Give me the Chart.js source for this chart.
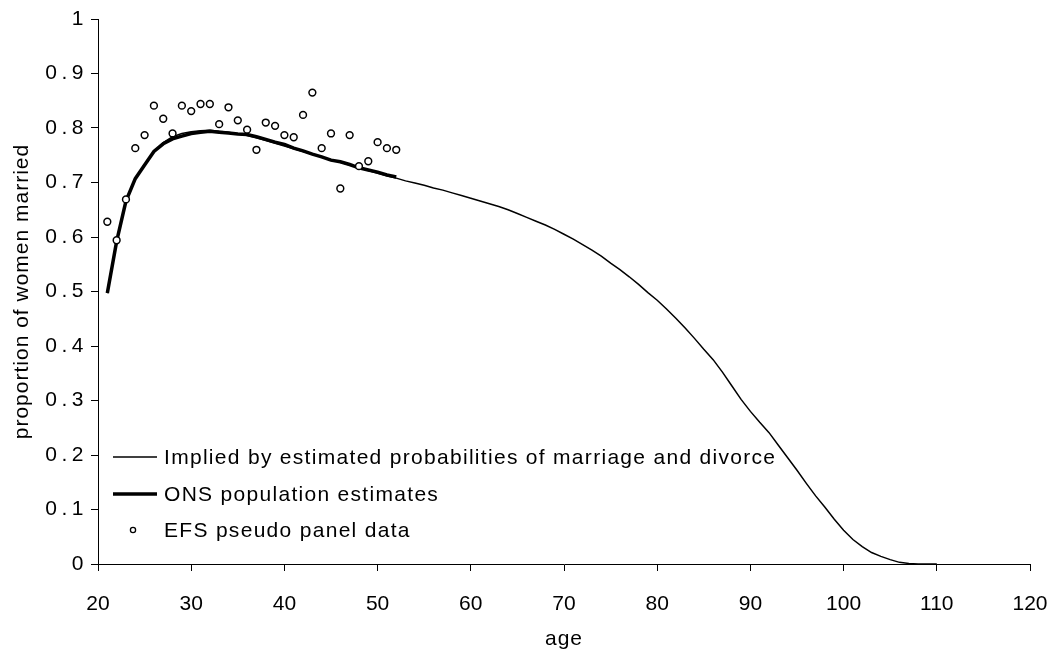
<!DOCTYPE html>
<html>
<head>
<meta charset="utf-8">
<title>Proportion of women married by age</title>
<script src="https://cdn.jsdelivr.net/npm/chart.js@4.4.1/dist/chart.umd.min.js"></script>
<style>
  html, body { margin: 0; padding: 0; background: #fff; }
  #wrap { width: 1059px; height: 652px; }
</style>
</head>
<body>
<div id="wrap"><canvas id="chart" width="1059" height="652"></canvas></div>
<script>
// Ages covered by the model-implied curve
const impliedAges = [];
for (let a = 21; a <= 110; a++) impliedAges.push(a);

// Proportion married implied by estimated probabilities of marriage and divorce
const impliedValues = [
  0.497, 0.592, 0.664, 0.707, 0.733, 0.757, 0.773, 0.784, 0.790, 0.793,
  0.795, 0.796, 0.794, 0.792, 0.789, 0.786, 0.782, 0.777, 0.772, 0.767,
  0.762, 0.757, 0.752, 0.747, 0.742, 0.737, 0.732, 0.727, 0.722, 0.717,
  0.712, 0.708, 0.703, 0.699, 0.695, 0.690, 0.686, 0.681, 0.676, 0.671,
  0.666, 0.661, 0.656, 0.650, 0.643, 0.636, 0.629, 0.622, 0.614, 0.605,
  0.596, 0.586, 0.576, 0.565, 0.552, 0.540, 0.527, 0.513, 0.498, 0.484,
  0.468, 0.451, 0.433, 0.414, 0.394, 0.375, 0.352, 0.327, 0.302, 0.280,
  0.260, 0.241, 0.218, 0.195, 0.172, 0.148, 0.125, 0.104, 0.082, 0.062,
  0.045, 0.032, 0.021, 0.014, 0.008, 0.003, 0.001, 0.000, 0.000, 0.000
];

// Ages 21-52 for the ONS estimates and the EFS pseudo panel
const panelAges = [];
for (let a = 21; a <= 52; a++) panelAges.push(a);

// ONS population estimates
const onsValues = [
  0.497, 0.592, 0.666, 0.707, 0.732, 0.757, 0.771, 0.780, 0.785, 0.790,
  0.792, 0.794, 0.792, 0.791, 0.789, 0.788, 0.784, 0.779, 0.774, 0.770,
  0.763, 0.758, 0.752, 0.747, 0.741, 0.738, 0.733, 0.727, 0.723, 0.719,
  0.714, 0.710
];

// EFS pseudo panel data
const efsValues = [
  0.628, 0.594, 0.669, 0.763, 0.787, 0.841, 0.817, 0.790, 0.841, 0.831,
  0.844, 0.844, 0.807, 0.838, 0.814, 0.797, 0.760, 0.810, 0.804, 0.787,
  0.783, 0.824, 0.865, 0.763, 0.790, 0.689, 0.787, 0.730, 0.739, 0.774,
  0.763, 0.760
];

// Axis tick labels
const xTickValues = [20, 30, 40, 50, 60, 70, 80, 90, 100, 110, 120];
const yTickLabels = ['0', '0.1', '0.2', '0.3', '0.4', '0.5', '0.6', '0.7', '0.8', '0.9', '1'];

const seriesNames = [
  'Implied by estimated probabilities of marriage and divorce',
  'ONS population estimates',
  'EFS pseudo panel data'
];

const FONT = 'Arial, "Liberation Sans", Helvetica, sans-serif';
const toPoints = (xs, ys) => xs.map((x, i) => ({ x: x, y: ys[i] }));

// Wrap a scale's label/title drawing so its text is set with extra letter spacing
function spaceOut(scale, method, spacing) {
  const base = Object.getPrototypeOf(scale)[method];
  scale[method] = function (...args) {
    const ctx = this.ctx;
    ctx.save();
    ctx.letterSpacing = spacing;
    base.apply(this, args);
    ctx.restore();
  };
}

// Legend drawn inside the plot area, lower left
const insideLegend = {
  id: 'insideLegend',
  afterDatasetsDraw(chart) {
    const ctx = chart.ctx;
    const area = chart.chartArea;
    const x0 = area.left + 15;
    const x1 = area.left + 59;
    const textX = area.left + 66;
    const rows = [457, 494, 530];
    ctx.save();
    ctx.font = '21px ' + FONT;
    ctx.letterSpacing = '1.3px';
    ctx.fillStyle = '#000';
    ctx.textBaseline = 'middle';
    ctx.textAlign = 'left';
    chart.data.datasets.forEach((ds, i) => {
      const y = rows[i];
      if (ds.showLine) {
        ctx.strokeStyle = '#000';
        ctx.lineWidth = ds.borderWidth;
        ctx.beginPath();
        ctx.moveTo(x0, y);
        ctx.lineTo(x1, y);
        ctx.stroke();
      } else {
        ctx.strokeStyle = '#000';
        ctx.lineWidth = 1.3;
        ctx.fillStyle = '#fff';
        ctx.beginPath();
        ctx.arc((x0 + x1) / 2 - 2, y, 2.6, 0, Math.PI * 2);
        ctx.fill();
        ctx.stroke();
        ctx.fillStyle = '#000';
      }
      ctx.fillText(ds.label, textX, y + 1);
    });
    ctx.restore();
  }
};

new Chart(document.getElementById('chart'), {
  type: 'scatter',
  data: {
    datasets: [
      {
        label: seriesNames[0],
        data: toPoints(impliedAges, impliedValues),
        showLine: true,
        borderColor: '#000',
        borderWidth: 1.5,
        pointRadius: 0,
        tension: 0,
        order: 2
      },
      {
        label: seriesNames[1],
        data: toPoints(panelAges, onsValues),
        showLine: true,
        borderColor: '#000',
        borderWidth: 3.5,
        pointRadius: 0,
        tension: 0,
        order: 1
      },
      {
        label: seriesNames[2],
        data: toPoints(panelAges, efsValues),
        showLine: false,
        pointStyle: 'circle',
        pointRadius: 3.4,
        pointBorderWidth: 1.5,
        pointBorderColor: '#000',
        pointBackgroundColor: '#fff',
        order: 0
      }
    ]
  },
  options: {
    responsive: false,
    animation: false,
    devicePixelRatio: 1,
    layout: { padding: { left: 0, right: 29, top: 19, bottom: 0 } },
    plugins: {
      legend: { display: false },
      tooltip: { enabled: false }
    },
    scales: {
      x: {
        type: 'linear',
        min: 20,
        max: 120,
        afterBuildTicks: (scale) => { scale.ticks = xTickValues.map(v => ({ value: v })); },
        afterFit: (scale) => {
          scale.height = 88;
          scale.paddingLeft = 0;
          scale.paddingRight = 0;
          spaceOut(scale, 'drawTitle', '1px');
        },
        ticks: {
          color: '#000',
          font: { family: FONT, size: 21 },
          padding: 21,
          maxRotation: 0,
          autoSkip: false,
          callback: (v) => String(v)
        },
        grid: { drawOnChartArea: false, drawTicks: true, tickLength: 7, color: '#000', lineWidth: 1 },
        border: { color: '#000', width: 1 },
        title: {
          display: true,
          text: 'age',
          color: '#000',
          font: { family: FONT, size: 21 },
          padding: { top: 0, bottom: 0 }
        }
      },
      y: {
        type: 'linear',
        min: 0,
        max: 1,
        afterBuildTicks: (scale) => { scale.ticks = yTickLabels.map(s => ({ value: parseFloat(s) })); },
        afterFit: (scale) => {
          scale.width = 98;
          spaceOut(scale, 'drawLabels', '4.5px');
          spaceOut(scale, 'drawTitle', '1px');
        },
        ticks: {
          color: '#000',
          font: { family: FONT, size: 21 },
          padding: 3,
          autoSkip: false,
          callback: (v) => yTickLabels[Math.round(v * 10)]
        },
        grid: { drawOnChartArea: false, drawTicks: true, tickLength: 7, color: '#000', lineWidth: 1 },
        border: { color: '#000', width: 1 },
        title: {
          display: true,
          text: 'proportion of women married',
          color: '#000',
          font: { family: FONT, size: 21 },
          padding: { top: 10, bottom: 0 }
        }
      }
    }
  },
  plugins: [insideLegend]
});
</script>
</body>
</html>
